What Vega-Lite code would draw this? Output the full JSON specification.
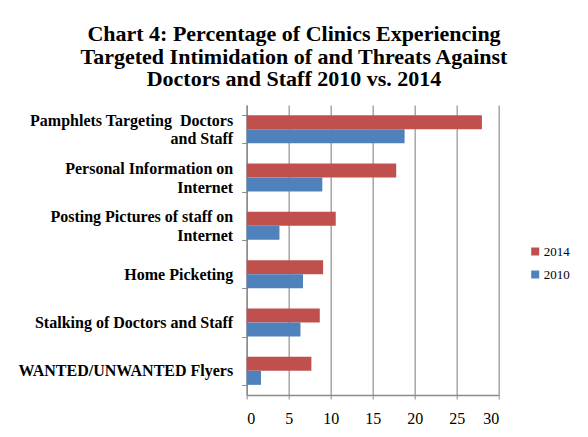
{
  "$schema": "https://vega.github.io/schema/vega-lite/v6.json",
  "autosize": "none",
  "width": 252,
  "height": 290,
  "padding": {"left": 246.7, "top": 105, "right": 89.3, "bottom": 42},
  "background": "white",
  "title": {
    "text": [
      "Chart 4: Percentage of Clinics Experiencing",
      "Targeted Intimidation of and Threats Against",
      "Doctors and Staff 2010 vs. 2014"
    ],
    "anchor": "middle",
    "frame": "group",
    "dx": -78.7,
    "offset": 6,
    "font": "Liberation Serif",
    "fontSize": 22,
    "fontWeight": "bold",
    "lineHeight": 22.5,
    "color": "black"
  },
  "data": {
    "values": [
      {"activity": "Pamphlets Targeting  Doctors and Staff", "year": "2014", "percent": 28.0},
      {"activity": "Pamphlets Targeting  Doctors and Staff", "year": "2010", "percent": 18.8},
      {"activity": "Personal Information on Internet", "year": "2014", "percent": 17.8},
      {"activity": "Personal Information on Internet", "year": "2010", "percent": 9.0},
      {"activity": "Posting Pictures of staff on Internet", "year": "2014", "percent": 10.6},
      {"activity": "Posting Pictures of staff on Internet", "year": "2010", "percent": 3.9},
      {"activity": "Home Picketing", "year": "2014", "percent": 9.1},
      {"activity": "Home Picketing", "year": "2010", "percent": 6.7},
      {"activity": "Stalking of Doctors and Staff", "year": "2014", "percent": 8.7},
      {"activity": "Stalking of Doctors and Staff", "year": "2010", "percent": 6.4},
      {"activity": "WANTED/UNWANTED Flyers", "year": "2014", "percent": 7.7},
      {"activity": "WANTED/UNWANTED Flyers", "year": "2010", "percent": 1.7}
    ]
  },
  "mark": {"type": "bar"},
  "encoding": {
    "y": {
      "field": "activity",
      "type": "nominal",
      "sort": null,
      "scale": {"paddingInner": 0.42, "paddingOuter": 0.21},
      "axis": {
        "title": null,
        "tickBand": "extent",
        "tickSize": 5,
        "tickColor": "#8c8c8c",
        "domainColor": "#8c8c8c",
        "domainWidth": 1.5,
        "labelPadding": 9,
        "labelFont": "Liberation Serif",
        "labelFontSize": 16,
        "labelFontWeight": "bold",
        "labelColor": "black",
        "labelLineHeight": 18.5,
        "labelLimit": 300,
        "labelOffset": {
          "condition": {
            "test": "indexof(['Pamphlets Targeting  Doctors and Staff', 'Personal Information on Internet', 'Posting Pictures of staff on Internet'], datum.value) >= 0",
            "value": -9
          },
          "value": 0
        },
        "labelExpr": "datum.value == 'Pamphlets Targeting  Doctors and Staff' ? ['Pamphlets Targeting \u00a0Doctors', 'and Staff'] : datum.value == 'Personal Information on Internet' ? ['Personal Information on', 'Internet'] : datum.value == 'Posting Pictures of staff on Internet' ? ['Posting Pictures of staff on', 'Internet'] : datum.value"
      }
    },
    "yOffset": {
      "field": "year",
      "type": "nominal",
      "scale": {"domain": ["2014", "2010"], "paddingInner": 0, "paddingOuter": 0}
    },
    "x": {
      "field": "percent",
      "type": "quantitative",
      "scale": {"domain": [0, 30], "nice": false},
      "axis": {
        "title": null,
        "values": [0, 5, 10, 15, 20, 25, 30],
        "grid": true,
        "gridColor": "#a6a6a6",
        "gridWidth": 1.5,
        "tickSize": 4,
        "tickColor": "#8c8c8c",
        "domainColor": "#8c8c8c",
        "domainWidth": 1.5,
        "labelPadding": 11,
        "labelFont": "Liberation Serif",
        "labelFontSize": 16,
        "labelColor": "black"
      }
    },
    "color": {
      "field": "year",
      "type": "nominal",
      "scale": {"domain": ["2014", "2010"], "range": ["#C0504D", "#4F81BD"]},
      "legend": {
        "title": null,
        "orient": "none",
        "legendX": 282,
        "legendY": 140,
        "symbolType": "square",
        "symbolSize": 64,
        "symbolStrokeWidth": 0,
        "labelFont": "Liberation Serif",
        "labelFontSize": 13,
        "labelColor": "black",
        "labelOffset": 2,
        "rowPadding": 9,
        "padding": 0
      }
    }
  },
  "config": {
    "view": {"stroke": null}
  }
}
